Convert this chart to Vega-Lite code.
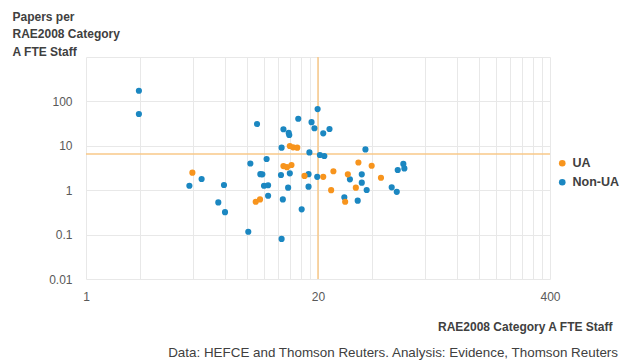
{
  "$schema": "https://vega.github.io/schema/vega-lite/v6.json",
  "width": 464,
  "height": 222,
  "autosize": {"type": "none"},
  "padding": {"left": 86, "top": 57, "right": 72, "bottom": 84},
  "background": "white",
  "config": {"view": {"stroke": null}, "font": "Liberation Sans"},
  "title": {
    "text": "Data: HEFCE and Thomson Reuters. Analysis: Evidence, Thomson Reuters",
    "orient": "bottom",
    "anchor": "end",
    "frame": "group",
    "dx": 68,
    "offset": 14,
    "fontSize": 13.4,
    "fontWeight": "normal",
    "color": "#404040"
  },
  "datasets": {
    "pts": [
      {"fte": 1.98, "papers": 174, "group": "Non-UA"},
      {"fte": 1.98, "papers": 52, "group": "Non-UA"},
      {"fte": 3.8, "papers": 1.26, "group": "Non-UA"},
      {"fte": 4.45, "papers": 1.79, "group": "Non-UA"},
      {"fte": 5.52, "papers": 0.53, "group": "Non-UA"},
      {"fte": 5.94, "papers": 1.31, "group": "Non-UA"},
      {"fte": 6.02, "papers": 0.32, "group": "Non-UA"},
      {"fte": 8.13, "papers": 0.116, "group": "Non-UA"},
      {"fte": 8.35, "papers": 4.0, "group": "Non-UA"},
      {"fte": 9.1, "papers": 31, "group": "Non-UA"},
      {"fte": 9.75, "papers": 2.28, "group": "Non-UA"},
      {"fte": 9.5, "papers": 2.3, "group": "Non-UA"},
      {"fte": 9.96, "papers": 1.26, "group": "Non-UA"},
      {"fte": 10.3, "papers": 5.05, "group": "Non-UA"},
      {"fte": 10.5, "papers": 1.29, "group": "Non-UA"},
      {"fte": 10.5, "papers": 0.75, "group": "Non-UA"},
      {"fte": 12.4, "papers": 2.2, "group": "Non-UA"},
      {"fte": 12.5, "papers": 9.06, "group": "Non-UA"},
      {"fte": 12.7, "papers": 0.62, "group": "Non-UA"},
      {"fte": 12.5, "papers": 0.08, "group": "Non-UA"},
      {"fte": 12.8, "papers": 23.6, "group": "Non-UA"},
      {"fte": 13.8, "papers": 17.5, "group": "Non-UA"},
      {"fte": 13.7, "papers": 19.5, "group": "Non-UA"},
      {"fte": 13.6, "papers": 1.14, "group": "Non-UA"},
      {"fte": 13.9, "papers": 2.4, "group": "Non-UA"},
      {"fte": 15.5, "papers": 40.7, "group": "Non-UA"},
      {"fte": 16.2, "papers": 0.37, "group": "Non-UA"},
      {"fte": 17.7, "papers": 1.2, "group": "Non-UA"},
      {"fte": 17.7, "papers": 2.3, "group": "Non-UA"},
      {"fte": 17.9, "papers": 7.1, "group": "Non-UA"},
      {"fte": 18.4, "papers": 34, "group": "Non-UA"},
      {"fte": 19.1, "papers": 24.8, "group": "Non-UA"},
      {"fte": 19.8, "papers": 2.0, "group": "Non-UA"},
      {"fte": 19.9, "papers": 67, "group": "Non-UA"},
      {"fte": 20.5, "papers": 6.2, "group": "Non-UA"},
      {"fte": 21.4, "papers": 19.1, "group": "Non-UA"},
      {"fte": 21.7, "papers": 5.9, "group": "Non-UA"},
      {"fte": 23.2, "papers": 23.9, "group": "Non-UA"},
      {"fte": 36.9, "papers": 8.3, "group": "Non-UA"},
      {"fte": 35.2, "papers": 2.28, "group": "Non-UA"},
      {"fte": 30.2, "papers": 1.76, "group": "Non-UA"},
      {"fte": 35.2, "papers": 1.48, "group": "Non-UA"},
      {"fte": 37.5, "papers": 1.01, "group": "Non-UA"},
      {"fte": 28.1, "papers": 0.69, "group": "Non-UA"},
      {"fte": 33.4, "papers": 0.58, "group": "Non-UA"},
      {"fte": 51.8, "papers": 1.16, "group": "Non-UA"},
      {"fte": 55.3, "papers": 0.92, "group": "Non-UA"},
      {"fte": 56, "papers": 2.85, "group": "Non-UA"},
      {"fte": 60.2, "papers": 3.9, "group": "Non-UA"},
      {"fte": 61, "papers": 3.1, "group": "Non-UA"},
      {"fte": 3.95, "papers": 2.48, "group": "UA"},
      {"fte": 8.95, "papers": 0.55, "group": "UA"},
      {"fte": 9.46, "papers": 0.62, "group": "UA"},
      {"fte": 13.9, "papers": 9.9, "group": "UA"},
      {"fte": 14.5, "papers": 9.25, "group": "UA"},
      {"fte": 15.3, "papers": 9.06, "group": "UA"},
      {"fte": 12.8, "papers": 3.5, "group": "UA"},
      {"fte": 13.4, "papers": 3.3, "group": "UA"},
      {"fte": 14.2, "papers": 3.7, "group": "UA"},
      {"fte": 16.8, "papers": 2.1, "group": "UA"},
      {"fte": 21.4, "papers": 2.0, "group": "UA"},
      {"fte": 23.7, "papers": 1.0, "group": "UA"},
      {"fte": 24.4, "papers": 2.67, "group": "UA"},
      {"fte": 33.7, "papers": 4.2, "group": "UA"},
      {"fte": 40, "papers": 3.56, "group": "UA"},
      {"fte": 29.4, "papers": 2.28, "group": "UA"},
      {"fte": 32.6, "papers": 1.14, "group": "UA"},
      {"fte": 45.1, "papers": 1.91, "group": "UA"},
      {"fte": 28.4, "papers": 0.55, "group": "UA"}
    ],
    "refs": [{"hx": 20, "hy": 6.5}]
  },
  "layer": [
    {
      "data": {"name": "refs"},
      "mark": {"type": "rule", "color": "#F8C888", "strokeWidth": 1.5},
      "encoding": {"y": {"field": "hy", "type": "quantitative"}}
    },
    {
      "data": {"name": "refs"},
      "mark": {"type": "rule", "color": "#F8C888", "strokeWidth": 1.5},
      "encoding": {"x": {"field": "hx", "type": "quantitative"}}
    },
    {
      "data": {"name": "pts"},
      "mark": {"type": "circle", "size": 38, "opacity": 1},
      "encoding": {
        "x": {
          "field": "fte",
          "type": "quantitative",
          "scale": {"type": "log", "domain": [1, 400], "nice": false},
          "axis": {
            "values": [1, 2, 4, 6, 8, 10, 12, 14, 16, 18, 20, 40, 80, 120, 160, 200, 240, 280, 320, 360, 400],
            "format": "~g",
            "labelExpr": "(datum.value == 1 || datum.value == 20 || datum.value == 400) ? datum.label : ''",
            "labelOverlap": false,
            "labelFlush": false,
            "grid": true,
            "gridColor": "#E8E8E8",
            "ticks": false,
            "domain": false,
            "labelPadding": 12,
            "labelFontSize": 12,
            "labelColor": "#595959",
            "title": "RAE2008 Category A FTE Staff",
            "titleX": 526,
            "titleY": 47,
            "titleAlign": "right",
            "titleBaseline": "middle",
            "titleFontSize": 12,
            "titleFontWeight": "bold",
            "titleColor": "#404040"
          }
        },
        "y": {
          "field": "papers",
          "type": "quantitative",
          "scale": {"type": "log", "domain": [0.01, 1000], "nice": false},
          "axis": {
            "values": [0.01, 0.1, 1, 10, 100, 1000],
            "format": "~g",
            "labelExpr": "datum.value >= 1000 ? '' : datum.label",
            "labelOverlap": false,
            "grid": true,
            "gridColor": "#E8E8E8",
            "ticks": false,
            "domain": false,
            "labelPadding": 14,
            "labelFontSize": 12,
            "labelColor": "#595959",
            "title": ["Papers per", "RAE2008 Category", "A FTE Staff"],
            "titleAngle": 0,
            "titleAlign": "left",
            "titleBaseline": "top",
            "titleX": -74,
            "titleY": -46,
            "titleLineHeight": 17.5,
            "titleFontSize": 12,
            "titleFontWeight": "bold",
            "titleColor": "#404040"
          }
        },
        "color": {
          "field": "group",
          "type": "nominal",
          "scale": {"domain": ["UA", "Non-UA"], "range": ["#F7941D", "#1B87C1"]},
          "legend": {
            "title": null,
            "orient": "none",
            "legendX": 470,
            "legendY": 100,
            "padding": 0,
            "symbolType": "circle",
            "symbolSize": 44,
            "labelFontSize": 12.5,
            "labelFontWeight": "bold",
            "labelColor": "#404040",
            "rowPadding": 6
          }
        }
      }
    }
  ]
}
